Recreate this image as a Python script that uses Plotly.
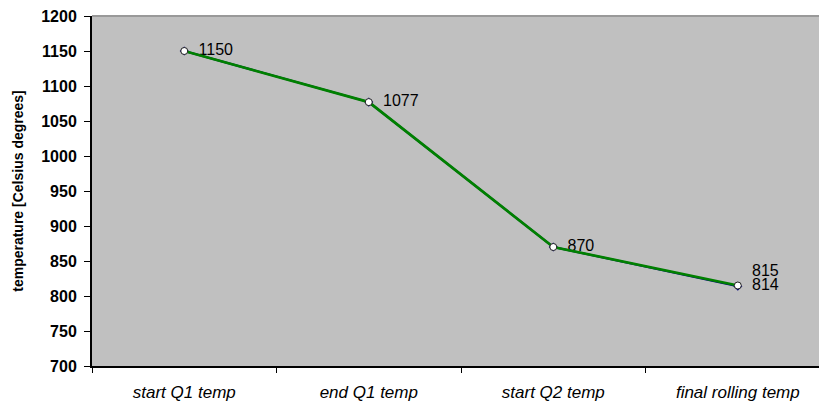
import plotly.graph_objects as go

categories = ["start Q1 temp", "end Q1 temp", "start Q2 temp", "final rolling temp"]
series_blue = [1150, 1077, 870, 814]
series_green = [1150, 1077, 870, 815]
y_ticks = [700, 750, 800, 850, 900, 950, 1000, 1050, 1100, 1150, 1200]

FONT = "Liberation Sans, Arial"

fig = go.Figure()
fig.add_trace(go.Scatter(
    x=categories, y=series_blue, mode="lines+markers+text",
    line=dict(color="#000080", width=2),
    marker=dict(symbol="diamond", size=7, color="#000080"),
    text=["  " + str(v) for v in series_blue], textposition="middle right",
    textfont=dict(family=FONT, size=16, color="black"),
    cliponaxis=False, showlegend=False,
))
green_text = [""] * (len(series_green) - 1) + ["  " + str(series_green[-1])]
fig.add_trace(go.Scatter(
    x=categories, y=series_green, mode="lines+markers+text",
    line=dict(color="#008000", width=2.7),
    marker=dict(symbol="circle", size=7, color="white", line=dict(color="#202020", width=1)),
    text=green_text, textposition="top right",
    textfont=dict(family=FONT, size=16, color="black"),
    cliponaxis=False, showlegend=False,
))

fig.update_layout(
    width=819, height=403,
    margin=dict(l=92, r=0, t=16, b=37),
    paper_bgcolor="white", plot_bgcolor="#C0C0C0",
    font=dict(family=FONT, color="black"),
    shapes=[dict(type="line", xref="paper", yref="paper", x0=0, x1=1, y0=1, y1=1,
                 line=dict(color="#999999", width=2))],
)
fig.update_xaxes(
    type="category", range=[-0.5, 3.44], automargin=False,
    tickson="boundaries", ticks="outside", ticklen=5, tickcolor="black",
    ticklabelstandoff=10,
    showline=True, linecolor="black", linewidth=2, showgrid=False, zeroline=False,
    tickfont=dict(family=FONT, size=17, style="italic"),
)
fig.update_yaxes(
    range=[700, 1200], tickvals=y_ticks, automargin=False,
    ticks="outside", ticklen=6, tickcolor="black",
    ticklabelstandoff=4,
    showline=True, linecolor="black", linewidth=2, showgrid=False, zeroline=False,
    tickfont=dict(family=FONT, size=16, weight="bold"),
    title=dict(text="temperature [Celsius degrees]", standoff=14,
               font=dict(family=FONT, size=14, weight="bold")),
)

fig.write_html("out.html", config={"displayModeBar": False},
               post_script="document.body.style.margin='0';document.body.style.overflow='hidden';")
